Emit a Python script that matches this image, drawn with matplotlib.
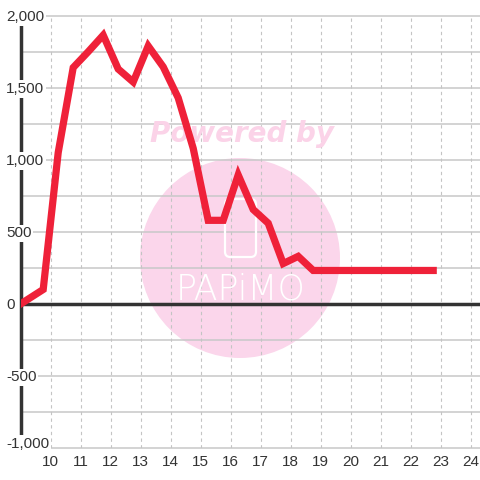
import matplotlib
matplotlib.use("Agg")
import matplotlib.pyplot as plt
import matplotlib.transforms as mtrans
from matplotlib.patches import Circle, FancyBboxPatch

# ---- data ----
x_vals = [9.0, 9.75, 10.25, 10.75, 11.25, 11.75, 12.25, 12.75, 13.25, 13.75,
          14.25, 14.75, 15.25, 15.75, 16.25, 16.75, 17.25, 17.75, 18.25, 18.75,
          19.25, 19.75, 20.25, 20.75, 21.25, 21.75, 22.25, 22.75]
y_vals = [0, 100, 1050, 1640, 1750, 1865, 1630, 1540, 1790, 1645,
          1430, 1080, 580, 580, 895, 655, 560, 280, 330, 232,
          232, 232, 232, 232, 232, 232, 232, 232]
x_ticks = list(range(10, 25))
y_ticks = [-1000, -500, 0, 500, 1000, 1500, 2000]
y_tick_labels = ["-1,000", "-500", "0", "500", "1,000", "1,500", "2,000"]
y_grid = [-1000, -750, -500, -250, 0, 250, 500, 750, 1000, 1250, 1500, 1750, 2000]

plt.rcParams['font.family'] = ['Liberation Sans', 'DejaVu Sans']

W = 480
fig = plt.figure(figsize=(4.8, 4.8), dpi=100)
fig.patch.set_facecolor('white')
ax = fig.add_axes([20.7 / W, 32 / W, 1 - 20.7 / W, (448 - 15.7) / W])
ax.set_facecolor('white')
ax.set_xlim(9, 9 + (W - 20.7) / 30.0)
ax.set_ylim(-1000, 2000)
for s in ax.spines.values():
    s.set_visible(False)

# horizontal grid
for g in y_grid:
    ax.axhline(g, color='#c8c8c8', lw=1.1, zorder=1.5, clip_on=False)
# vertical dashed grid
for t in x_ticks:
    ax.axvline(t, color='#c4c4c4', lw=0.8, ls=(0, (3, 3)), zorder=1.5)

ax.set_xticks(x_ticks)
ax.set_xticklabels([str(t) for t in x_ticks])
ax.set_yticks([])
ax.tick_params(axis='x', length=0, pad=5, labelsize=11, labelcolor='#333333')

# watermark
circ = Circle((240 / W, 1 - 258 / W), 100 / W, transform=fig.transFigure,
              facecolor='#fbd6eb', edgecolor='none', zorder=1)
ax.add_patch(circ)
ax.text(242 / W, 1 - 134 / W, "Powered by", transform=fig.transFigure,
        ha='center', va='center', fontsize=20, fontweight='bold', fontstyle='italic',
        family='DejaVu Sans', color='#fbd3e8', zorder=1.7)
ax.text(241 / W, 1 - 290 / W, "PAPiMO", transform=fig.transFigure,
        ha='center', va='center', fontsize=25, family='DejaVu Sans', fontweight='light',
        color='white', zorder=1.7)
phone = FancyBboxPatch((225 / W, 1 - 257 / W), 31 / W, 58 / W,
                       boxstyle='round,pad=0,rounding_size=0.011',
                       transform=fig.transFigure, facecolor='none',
                       edgecolor='white', lw=1.6, zorder=1.7)
ax.add_patch(phone)

# axis lines
ax.axvline(9, color='#333333', lw=2.5, zorder=3, clip_on=False)
ax.axhline(0, color='#333333', lw=2.5, zorder=3)

# data line
ax.plot(x_vals, y_vals, color='#ef2139', lw=5.2, zorder=4,
        solid_joinstyle='miter', solid_capstyle='projecting')

# y labels
ytrans = mtrans.blended_transform_factory(fig.transFigure, ax.transData)
for v, lab in zip(y_ticks, y_tick_labels):
    va = 'baseline' if v == -1000 else 'center_baseline'
    ax.text(6 / W, v, lab, transform=ytrans,
            ha='left', va=va, fontsize=11, color='#333333', zorder=6, clip_on=False,
            bbox=dict(boxstyle='square,pad=0.12', facecolor='white', edgecolor='none'))

fig.savefig('out.png', dpi=100, facecolor='white')
